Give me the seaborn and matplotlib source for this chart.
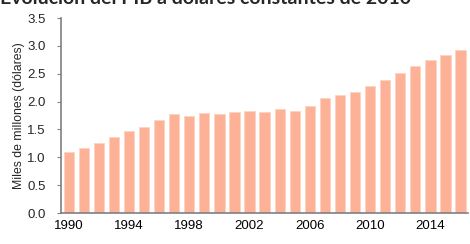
import matplotlib
matplotlib.use("Agg")
import matplotlib.pyplot as plt
import seaborn as sns
import pandas as pd

# Datos (miles de millones de dólares constantes de 2010)
years = list(range(1990, 2017))
pib = [1.10, 1.17, 1.25, 1.36, 1.47, 1.55, 1.675, 1.78, 1.75, 1.80,
       1.78, 1.81, 1.83, 1.81, 1.87, 1.84, 1.93, 2.06, 2.11, 2.18,
       2.28, 2.39, 2.52, 2.64, 2.75, 2.84, 2.93]
tick_years = [1990, 1994, 1998, 2002, 2006, 2010, 2014]

df = pd.DataFrame({"year": years, "pib": pib})

sns.set_style("white")
plt.rcParams['font.family'] = ['Liberation Sans', 'DejaVu Sans']

fig = plt.figure(figsize=(4.7, 2.44), dpi=100)
ax = fig.add_axes([0.130, 0.127, 0.866, 0.799])

sns.barplot(data=df, x="year", y="pib", color="#FDB196", saturation=1,
            width=0.68, edgecolor="#FDD3C3", linewidth=0.6, ax=ax)

ax.set_xlim(-0.5, len(years) - 0.5)
ax.set_ylim(0, 3.5)
ax.set_yticks([0, 0.5, 1.0, 1.5, 2.0, 2.5, 3.0, 3.5])
ax.set_yticklabels(["0.0", "0.5", "1.0", "1.5", "2.0", "2.5", "3.0", "3.5"])

pos = [years.index(y) for y in tick_years]
ax.set_xticks(pos)
ax.set_xticklabels([str(y) for y in tick_years])
ax.set_xticks([i - 0.5 for i in range(len(years) + 1)], minor=True)
ax.tick_params(axis="x", which="major", length=0, pad=5, labelsize=9.5, colors="black")
ax.tick_params(axis="x", which="minor", length=4, width=0.8, color="#808080")
ax.tick_params(axis="y", which="major", left=True, length=3, width=0.8, color="#808080",
               labelsize=9.5, pad=8)

for s in ["top", "right"]:
    ax.spines[s].set_visible(False)
for s in ["left", "bottom"]:
    ax.spines[s].set_color("#808080")
    ax.spines[s].set_linewidth(1.2)

ax.set_xlabel("")
ax.set_ylabel("Miles de millones (dólares)", fontsize=8.8, labelpad=2)

fig.text(0.0, 1 - 4.5 / 244, "Evolución del PIB a dólares constantes de 2010",
         fontsize=14, fontweight="bold", family=["Lato", "DejaVu Sans"],
         va="baseline", ha="left")

fig.savefig("out.png", dpi=100)
